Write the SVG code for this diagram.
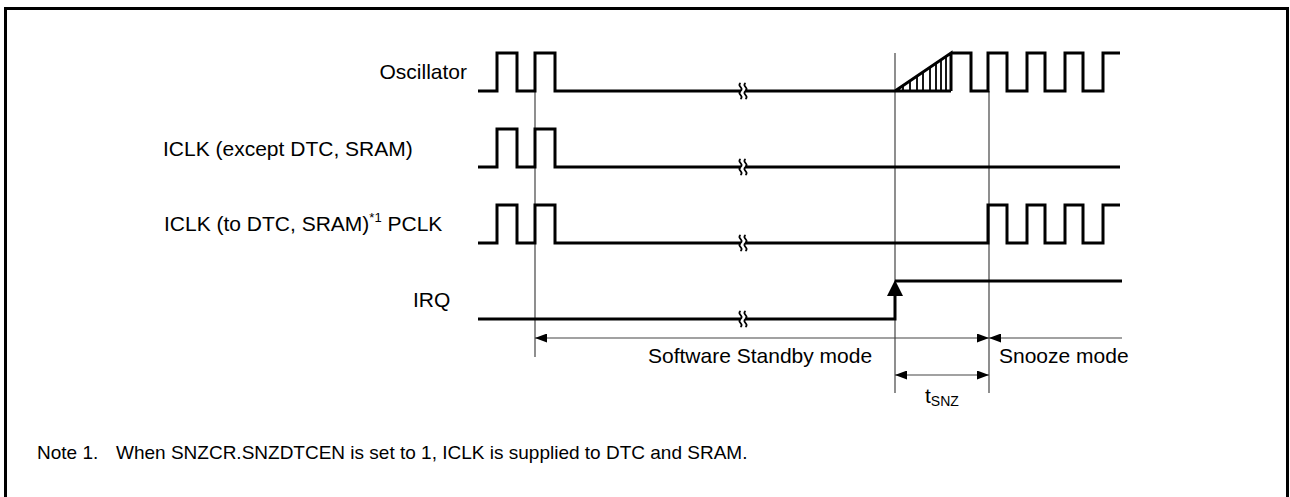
<svg xmlns="http://www.w3.org/2000/svg" width="1290" height="497" viewBox="0 0 1290 497">
<style>
  .sig{fill:none;stroke:#000;stroke-width:3;stroke-linejoin:miter;stroke-linecap:butt}
  .thin{fill:none;stroke:#444;stroke-width:1.2}
  .hatch{fill:none;stroke:#000;stroke-width:1.8}
  .brk{fill:none;stroke:#000;stroke-width:1.8}
  .lbl{font-family:"Liberation Sans",Arial,sans-serif;font-size:21px;fill:#000}
  .note{font-family:"Liberation Sans",Arial,sans-serif;font-size:19px;fill:#000}
</style>
<defs>
  <marker id="ah" markerUnits="userSpaceOnUse" markerWidth="12" markerHeight="9" refX="12" refY="4.5" orient="auto-start-reverse">
    <path d="M0,0 L12,4.5 L0,9 Z" fill="#000"/>
  </marker>
  <g id="brkmark">
    <rect x="-2" y="-5" width="4" height="10" fill="#fff"/>
    <path class="brk" d="M-2.5,-8 c-4,3 4,5 0,8 c-4,3 4,5 0,8"/>
    <path class="brk" d="M2.5,-8 c-4,3 4,5 0,8 c-4,3 4,5 0,8"/>
  </g>
</defs>
<rect width="1290" height="497" fill="#fff"/>
<rect x="5.5" y="8.5" width="1282" height="500" fill="none" stroke="#000" stroke-width="3"/>

<g id="connectors">
  <path class="thin" d="M535,91 V357"/>
  <path class="thin" d="M895,53 V393"/>
  <path class="thin" d="M989,91 V393"/>
  <path class="thin" d="M535,338 H989" marker-start="url(#ah)" marker-end="url(#ah)"/>
  <path class="thin" d="M989,338 H1122" marker-start="url(#ah)"/>
  <path class="thin" d="M895,375 H989" marker-start="url(#ah)" marker-end="url(#ah)"/>
</g>

<g id="oscillator">
  <text class="lbl" x="467" y="79" text-anchor="end">Oscillator</text>
  <path class="sig" d="M478,91 H497 V53 H517 V91 H535 V53 H555 V91 H895 L951,53 V91 M895,91 H951 M951,53 H971 V91 H988 V53 H1007 V91 H1027 V53 H1045 V91 H1065 V53 H1083 V91 H1103 V53 H1120"/>
  <path class="hatch" d="M903,91 V86 M910,91 V81 M917,91 V76.5 M923,91 V72.5 M930,91 V68 M936,91 V64 M941,91 V60.5 M946,91 V57"/>
  <use href="#brkmark" x="743" y="91"/>
</g>

<g id="iclk-except">
  <text class="lbl" x="163" y="156">ICLK (except DTC, SRAM)</text>
  <path class="sig" d="M478,167 H497 V129 H517 V167 H535 V129 H555 V167 H1120"/>
  <use href="#brkmark" x="743" y="167"/>
</g>

<g id="iclk-dtc">
  <text class="lbl" x="164" y="231">ICLK (to DTC, SRAM)<tspan font-size="13" dy="-9">*1</tspan><tspan dy="9"> PCLK</tspan></text>
  <path class="sig" d="M478,243 H497 V205 H517 V243 H535 V205 H555 V243 H988 V205 H1007 V243 H1027 V205 H1045 V243 H1065 V205 H1083 V243 H1103 V205 H1120"/>
  <use href="#brkmark" x="743" y="243"/>
</g>

<g id="irq">
  <text class="lbl" x="413" y="307">IRQ</text>
  <path class="sig" d="M478,319 H895 V294"/>
  <polygon points="895,280 887,296 903,296" fill="#000"/>
  <path class="sig" d="M895,281 H1122"/>
  <use href="#brkmark" x="743" y="319"/>
</g>

<g id="labels">
  <text class="lbl" x="648" y="363">Software Standby mode</text>
  <text class="lbl" x="999" y="363">Snooze mode</text>
  <text class="lbl" x="925" y="403">t<tspan font-size="14" dy="3">SNZ</tspan></text>
</g>

<g id="note">
  <text class="note" x="37" y="459">Note 1.</text>
  <text class="note" x="116" y="459">When SNZCR.SNZDTCEN is set to 1, ICLK is supplied to DTC and SRAM.</text>
</g>
</svg>
